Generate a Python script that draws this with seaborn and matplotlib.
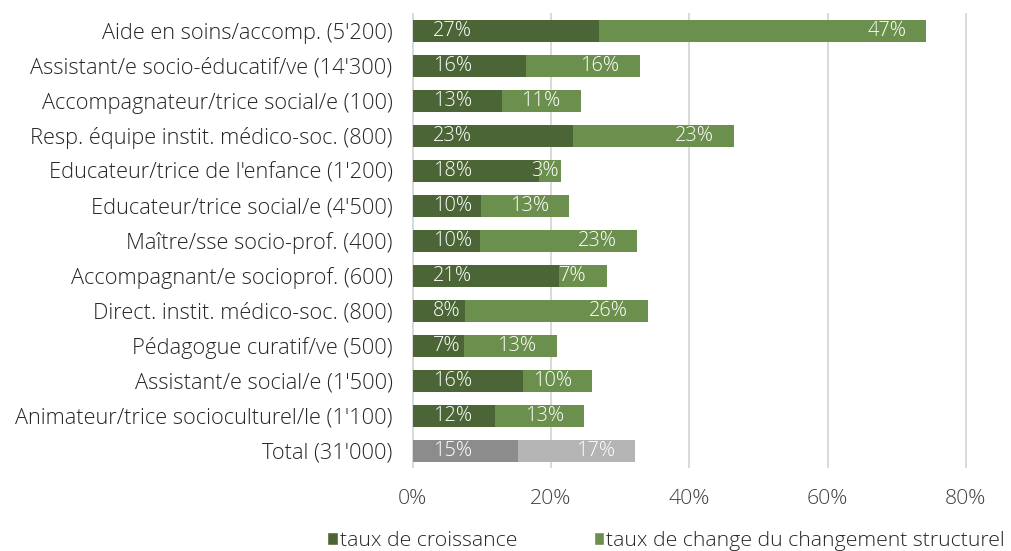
import matplotlib
matplotlib.use("Agg")
import matplotlib.pyplot as plt
from matplotlib.patches import Patch
import seaborn as sns
import pandas as pd

# Occupations (with headcount) from top to bottom
categories = [
    "Aide en soins/accomp. (5'200)",
    "Assistant/e socio-éducatif/ve (14'300)",
    "Accompagnateur/trice social/e (100)",
    "Resp. équipe instit. médico-soc. (800)",
    "Educateur/trice de l'enfance (1'200)",
    "Educateur/trice social/e (4'500)",
    "Maître/sse socio-prof. (400)",
    "Accompagnant/e socioprof. (600)",
    "Direct. instit. médico-soc. (800)",
    "Pédagogue curatif/ve (500)",
    "Assistant/e social/e (1'500)",
    "Animateur/trice socioculturel/le (1'100)",
    "Total (31'000)",
]
# growth rate and structural-change rate, in percent
growth = [27.0, 16.4, 12.9, 23.2, 18.3, 9.9, 9.7, 21.2, 7.6, 7.4, 16.0, 11.9, 15.2]
structural = [47.3, 16.4, 11.4, 23.2, 3.1, 12.7, 22.8, 6.9, 26.4, 13.4, 10.0, 12.9, 16.9]
x_ticks = [0, 20, 40, 60, 80]
legend_labels = ["taux de croissance", "taux de change du changement structurel"]

DARK_GREEN = "#4b6536"
LIGHT_GREEN = "#6b8f4c"
DARK_GREY = "#8c8c8c"
LIGHT_GREY = "#b4b4b4"
TEXT = "#262626"

sns.set_theme(style="white")
plt.rcParams["font.family"] = ["Open Sans", "DejaVu Sans"]
plt.rcParams["font.weight"] = "light"

df = pd.DataFrame({"cat": categories, "growth": growth, "structural": structural})
df["total"] = df["growth"] + df["structural"]

dark_pal = {c: DARK_GREEN for c in categories}
light_pal = {c: LIGHT_GREEN for c in categories}
dark_pal[categories[-1]] = DARK_GREY
light_pal[categories[-1]] = LIGHT_GREY

fig = plt.figure(figsize=(10.12, 5.51), dpi=100)
ax = fig.add_axes([412.0 / 1012, 0.150, 554.6 / 1012, 0.8259])

# full bar (growth + structural) underneath, growth segment on top
sns.barplot(data=df, x="total", y="cat", hue="cat", palette=light_pal,
            width=0.63, saturation=1, legend=False, linewidth=0, ax=ax)
sns.barplot(data=df, x="growth", y="cat", hue="cat", palette=dark_pal,
            width=0.63, saturation=1, legend=False, linewidth=0, ax=ax)

ax.set_xlim(-0.1, 80.1)
ax.set_xticks(x_ticks)
ax.set_xticklabels([f"{t}%" for t in x_ticks])
ax.set_xlabel("")
ax.set_ylabel("")
for s in ax.spines.values():
    s.set_visible(False)
ax.xaxis.grid(True, color="#d9d9d9", linewidth=1.4)
ax.set_axisbelow(True)
ax.tick_params(axis="y", length=0, pad=14, labelsize=15.7, labelcolor=TEXT)
ax.tick_params(axis="x", length=0, pad=15, labelsize=15.3, labelcolor="#404040")

# value labels: growth at the base, structural at the end of the bar
px_per_unit = ax.bbox.width / (ax.get_xlim()[1] - ax.get_xlim()[0])
for i, row in df.iterrows():
    ax.annotate(f"{round(row['growth'])}%", xy=(0, i), xytext=(20, 0),
                textcoords="offset pixels", ha="left", va="center",
                color="white", fontsize=14.4)
    pad = 20 if row["structural"] * px_per_unit >= 40 else 2
    ax.annotate(f"{round(row['structural'])}%", xy=(row["total"], i),
                xytext=(-pad, 0), textcoords="offset pixels",
                ha="right", va="center", color="white", fontsize=14.4)

handles = [Patch(facecolor=DARK_GREEN), Patch(facecolor=LIGHT_GREEN)]
fig.legend(handles, legend_labels, loc="center left",
           bbox_to_anchor=(327 / 1012, 1 - 541 / 551), ncol=2, frameon=False,
           handlelength=0.5, handleheight=0.5, handletextpad=0.1,
           columnspacing=3.6, borderpad=0, borderaxespad=0,
           fontsize=15.3, labelcolor="#262626")

fig.savefig("out.png", dpi=100)
